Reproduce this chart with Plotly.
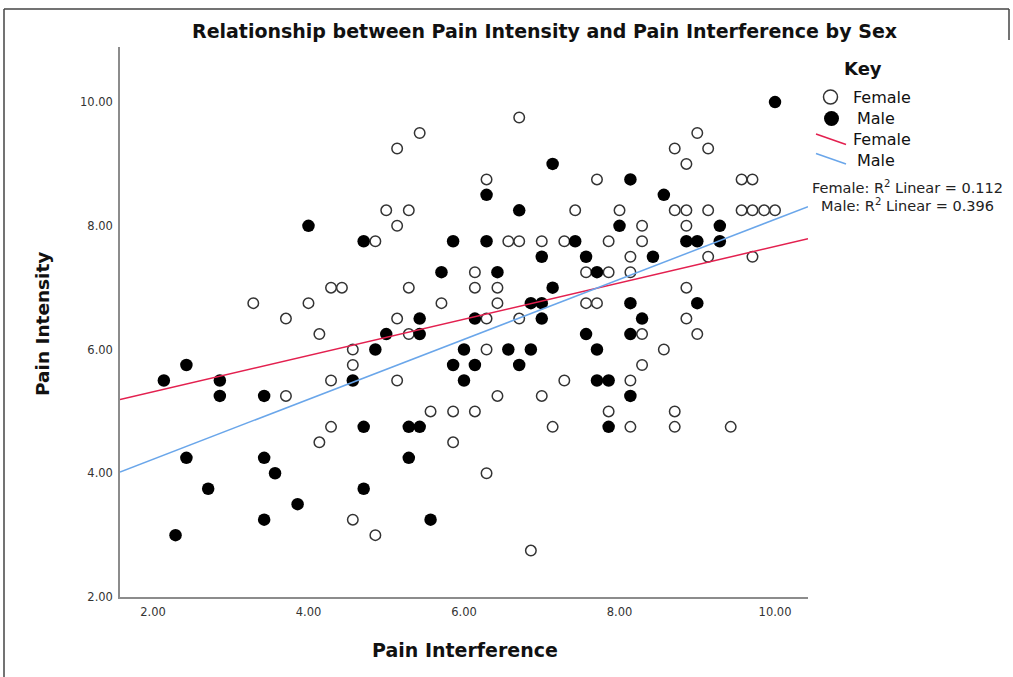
import plotly.graph_objects as go

# ---------------- data ----------------
female_x = [3.29, 3.71, 3.71, 4.00, 4.14, 4.29, 4.43, 4.29, 6.71, 5.43,
            5.14, 6.29, 5.00, 5.29, 5.14, 4.86, 6.57, 6.71, 7.00, 7.29,
            9.00, 8.71, 9.14, 8.86, 7.71, 9.57, 9.71, 7.43, 8.00, 8.71,
            8.86, 9.14, 9.57, 9.71, 9.86, 10.00, 8.29, 8.86, 7.86, 8.29,
            8.14, 9.14, 9.71, 7.57, 7.86, 8.14, 8.86, 7.57, 7.71, 8.86,
            8.29, 9.00, 8.57, 8.29, 7.29, 8.14, 7.86, 8.71, 7.14, 8.14,
            8.71, 9.43, 6.14, 5.29, 6.14, 6.43, 5.71, 6.43, 5.14, 6.29,
            6.71, 5.29, 4.57, 6.29, 4.57, 5.14, 6.43, 7.00, 5.57, 5.86,
            6.14, 4.29, 5.86, 6.29, 4.57, 4.86, 6.86, 4.14]
female_y = [6.75, 6.50, 5.25, 6.75, 6.25, 7.00, 7.00, 5.50, 9.75, 9.50,
            9.25, 8.75, 8.25, 8.25, 8.00, 7.75, 7.75, 7.75, 7.75, 7.75,
            9.50, 9.25, 9.25, 9.00, 8.75, 8.75, 8.75, 8.25, 8.25, 8.25,
            8.25, 8.25, 8.25, 8.25, 8.25, 8.25, 8.00, 8.00, 7.75, 7.75,
            7.50, 7.50, 7.50, 7.25, 7.25, 7.25, 7.00, 6.75, 6.75, 6.50,
            6.25, 6.25, 6.00, 5.75, 5.50, 5.50, 5.00, 5.00, 4.75, 4.75,
            4.75, 4.75, 7.25, 7.00, 7.00, 7.00, 6.75, 6.75, 6.50, 6.50,
            6.50, 6.25, 6.00, 6.00, 5.75, 5.50, 5.25, 5.25, 5.00, 5.00,
            5.00, 4.75, 4.50, 4.00, 3.25, 3.00, 2.75, 4.50]

male_x = [4.00, 2.43, 2.14, 2.86, 2.86, 3.43, 7.14, 6.29, 6.71, 4.71,
          5.86, 6.29, 10.00, 8.14, 8.57, 8.00, 9.29, 7.43, 8.86, 9.00,
          9.29, 7.57, 8.43, 7.71, 7.14, 8.14, 9.00, 8.29, 7.57, 8.14,
          7.71, 7.71, 7.86, 8.14, 7.86, 7.00, 5.71, 6.43, 6.86, 7.00,
          5.43, 6.14, 7.00, 5.00, 5.43, 4.86, 6.00, 6.57, 6.86, 5.86,
          6.14, 6.71, 4.57, 6.00, 4.71, 5.29, 5.43, 5.29, 4.71, 5.57,
          2.43, 3.43, 3.57, 2.71, 3.86, 3.43, 2.29]
male_y = [8.00, 5.75, 5.50, 5.50, 5.25, 5.25, 9.00, 8.50, 8.25, 7.75,
          7.75, 7.75, 10.00, 8.75, 8.50, 8.00, 8.00, 7.75, 7.75, 7.75,
          7.75, 7.50, 7.50, 7.25, 7.00, 6.75, 6.75, 6.50, 6.25, 6.25,
          6.00, 5.50, 5.50, 5.25, 4.75, 7.50, 7.25, 7.25, 6.75, 6.75,
          6.50, 6.50, 6.50, 6.25, 6.25, 6.00, 6.00, 6.00, 6.00, 5.75,
          5.75, 5.75, 5.50, 5.50, 4.75, 4.75, 4.75, 4.25, 3.75, 3.25,
          4.25, 4.25, 4.00, 3.75, 3.50, 3.25, 3.00]

# fit lines (end points, at the axis limits)
fit_x = [1.576, 10.424]
female_fit_y = [5.19, 7.79]
male_fit_y = [4.02, 8.31]

x_ticks = [2, 4, 6, 8, 10]
x_tick_labels = ["2.00", "4.00", "6.00", "8.00", "10.00"]
y_ticks = [2, 4, 6, 8, 10]
y_tick_labels = ["2.00", "4.00", "6.00", "8.00", "10.00"]

r2_female = "0.112"
r2_male = "0.396"

# ---------------- figure ----------------
FONT = "DejaVu Sans"
RED = "#e3204f"
BLUE = "#6aa6ea"

fig = go.Figure()
fig.add_trace(go.Scatter(
    x=female_x, y=female_y, mode="markers", name="Female",
    marker=dict(symbol="circle", size=10.5, color="white",
                line=dict(color="#333333", width=1.5)),
    showlegend=False))
fig.add_trace(go.Scatter(
    x=male_x, y=male_y, mode="markers", name="Male",
    marker=dict(symbol="circle", size=12.5, color="black",
                line=dict(color="black", width=0)),
    showlegend=False))
fig.add_trace(go.Scatter(
    x=fit_x, y=female_fit_y, mode="lines", name="Female fit",
    line=dict(color=RED, width=1.5), showlegend=False))
fig.add_trace(go.Scatter(
    x=fit_x, y=male_fit_y, mode="lines", name="Male fit",
    line=dict(color=BLUE, width=1.5), showlegend=False))

W, H = 1013, 677
L, R, T, B = 120, 205, 47, 80
pw, ph = W - L - R, H - T - B


def px(X):
    return (X - L) / pw


def py(Y):
    return (H - B - Y) / ph


shapes = []
# outer frame of the screenshot
frame = dict(type="line", xref="paper", yref="paper",
             line=dict(color="#444444", width=1.5))
shapes.append(dict(frame, x0=px(4), x1=px(1009), y0=py(9), y1=py(9)))
shapes.append(dict(frame, x0=px(4), x1=px(4), y0=py(9), y1=py(677)))
shapes.append(dict(frame, x0=px(1009), x1=px(1009), y0=py(9), y1=py(40)))

# legend glyphs
shapes.append(dict(type="circle", xref="paper", yref="paper",
                   x0=px(823.5), x1=px(837.5), y0=py(90), y1=py(104),
                   line=dict(color="#333333", width=1.5), fillcolor="white"))
shapes.append(dict(type="circle", xref="paper", yref="paper",
                   x0=px(824), x1=px(839), y0=py(111), y1=py(126),
                   line=dict(color="black", width=0), fillcolor="black"))
shapes.append(dict(type="line", xref="paper", yref="paper",
                   x0=px(816), x1=px(846), y0=py(134), y1=py(144.5),
                   line=dict(color=RED, width=1.5)))
shapes.append(dict(type="line", xref="paper", yref="paper",
                   x0=px(816), x1=px(846), y0=py(153.5), y1=py(164),
                   line=dict(color=BLUE, width=1.5)))

annotations = []


def ann(text, X, Y, size, bold=False, xanchor="center", color="black",
        textangle=0):
    annotations.append(dict(
        text=("<b>%s</b>" % text) if bold else text,
        xref="paper", yref="paper", x=px(X), y=py(Y),
        xanchor=xanchor, yanchor="middle", showarrow=False,
        textangle=textangle,
        font=dict(family=FONT, size=size, color=color)))


ann("Relationship between Pain Intensity and Pain Interference by Sex",
    544, 31, 19, bold=True, color="#111111")
ann("Pain Interference", 465, 650, 19, bold=True, color="#111111")
ann("Pain Intensity", 42, 324, 18.5, bold=True, color="#111111",
    textangle=-90)
ann("Key", 863, 68, 18, bold=True, color="#111111")
ann("Female", 851, 97, 16, xanchor="left", color="#111111")
ann("Male", 855, 118, 16, xanchor="left", color="#111111")
ann("Female", 851, 139.5, 16, xanchor="left", color="#111111")
ann("Male", 855, 160, 16, xanchor="left", color="#111111")
ann("Female: R<sup>2</sup> Linear = " + r2_female, 907, 187, 14.5,
    color="#222222")
ann("Male: R<sup>2</sup> Linear = " + r2_male, 907, 205, 14.5,
    color="#222222")

fig.update_layout(
    width=W, height=H,
    margin=dict(l=L, r=R, t=T, b=B, pad=0),
    paper_bgcolor="white", plot_bgcolor="white",
    showlegend=False,
    font=dict(family=FONT, color="#333333"),
    xaxis=dict(range=[1.576, 10.424], tickvals=x_ticks,
               ticktext=x_tick_labels, showgrid=False, zeroline=False,
               showline=True, linecolor="#8c8c8c", linewidth=1.5,
               ticks="", tickfont=dict(family=FONT, size=11.5,
                                       color="#333333"),
               ticklabelstandoff=3),
    yaxis=dict(range=[2.0, 10.89], tickvals=y_ticks,
               ticktext=y_tick_labels, showgrid=False, zeroline=False,
               showline=True, linecolor="#8c8c8c", linewidth=1.5,
               ticks="", tickfont=dict(family=FONT, size=11.5,
                                       color="#333333"),
               ticklabelstandoff=3),
    shapes=shapes,
    annotations=annotations,
)

fig.write_html("out.html",
               config={"displayModeBar": False},
               post_script="document.body.style.margin='0px';"
                           "document.body.style.overflow='hidden';")
